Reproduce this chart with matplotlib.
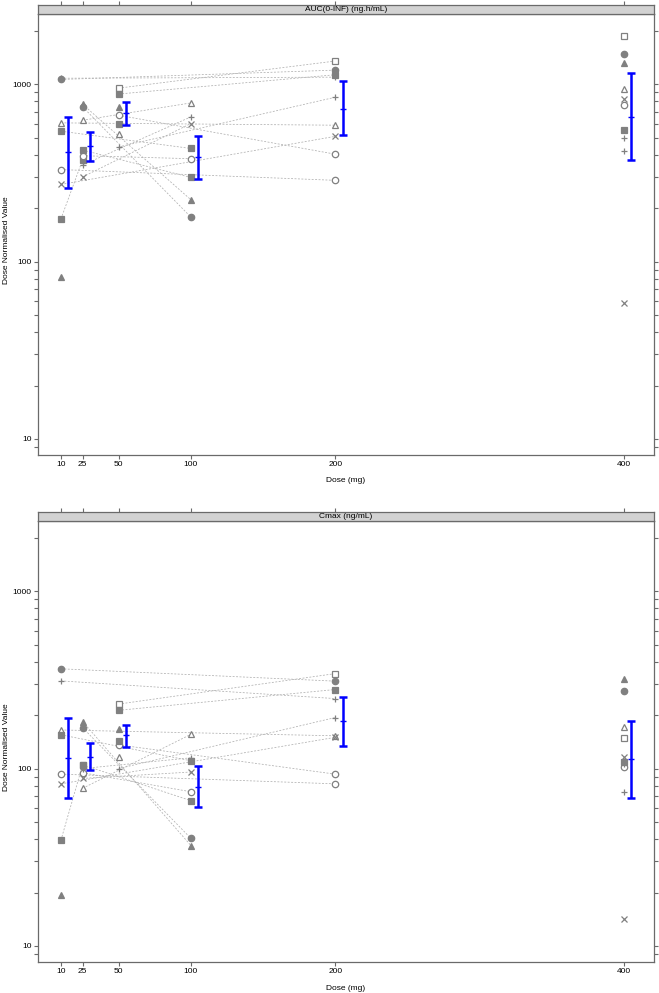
"""Dose normalised AUC and Cmax versus dose, two stacked lattice-style panels."""

import numpy as np
import matplotlib
matplotlib.use("Agg")
import matplotlib.pyplot as plt
from matplotlib.ticker import FixedLocator, FixedFormatter, NullFormatter

plt.rcParams['font.family'] = ['Liberation Sans', 'DejaVu Sans']

# Subjects: marker, first dose, second dose (nan = single dose)
subj_marker = ["circle", "plus", "tri_open", "cross", "circle_open", "square", "square", "tri",
               "tri", "circle", "tri_open", "circle_open", "cross", "plus", "square",
               "square_open", "square", "plus", "circle_open", "square", "tri", "tri_open",
               "square_open", "circle", "tri", "tri_open", "cross", "circle_open", "square",
               "plus", "plus", "cross"]
subj_dose_a = [10, 10, 10, 10, 10, 10, 10, 10,
               25, 25, 25, 25, 25, 25, 25,
               50, 50, 50, 50, 50, 50, 50,
               400, 400, 400, 400, 400, 400, 400, 400, 400, 400]
subj_dose_b = [200, 200, 200, 200, 200, 100, 25, np.nan,
               100, 100, 100, 100, 100, 100, 100,
               200, 200, 200, 200, np.nan, np.nan, np.nan,
               np.nan, np.nan, np.nan, np.nan, np.nan, np.nan, np.nan, np.nan, np.nan, np.nan]

# AUC(0-INF) dose normalised values at first / second dose
auc_a = [1063, 1080, 605, 272, 330, 543, 174, 82,
         770, 745, 626, 395, 300, 350, 425,
         950, 880, 443, 668, 600, 740, 522,
         1868, 1478, 1309, 945, 830, 761, 555, 500, 419, 58.5]
auc_b = [1200, 1095, 587, 508, 287, 434, 375, np.nan,
         223, 178, 784, 380, 600, 654, 298,
         1350, 1130, 844, 403, np.nan, np.nan, np.nan,
         np.nan, np.nan, np.nan, np.nan, np.nan, np.nan, np.nan, np.nan, np.nan, np.nan]

# Cmax dose normalised values at first / second dose
cmax_a = [365, 312, 165, 82, 93, 155, 39.5, 19.4,
          184, 170, 77.4, 94.7, 88, 100, 105,
          231, 213, 100, 136, 143, 168, 116.6,
          148, 273, 318, 172, 116.6, 102, 109, 74, 106, 14.2]
cmax_b = [311, 248, 153, 150, 82, 110.6, 105, np.nan,
          36.8, 40.4, 156, 74, 95.6, 115, 65.9,
          343, 279, 194, 93, np.nan, np.nan, np.nan,
          np.nan, np.nan, np.nan, np.nan, np.nan, np.nan, np.nan, np.nan, np.nan, np.nan]

# Blue summary bars (lower, centre, upper)
bar_doses = [10, 25, 50, 100, 200, 400]
auc_bar_lo = [261, 367, 592, 293, 520, 372]
auc_bar_mid = [413, 448, 689, 388, 729, 649]
auc_bar_hi = [649, 538, 795, 508, 1040, 1159]
cmax_bar_lo = [68.2, 98, 132.7, 60.9, 133.8, 68]
cmax_bar_mid = [115, 116.6, 154, 79, 185, 112.7]
cmax_bar_hi = [192, 138.7, 177, 103.7, 254, 185]

x_ticks = [10, 25, 50, 100, 200, 400]
panel_titles = ["AUC(0-INF) (ng.h/mL)", "Cmax (ng/mL)"]

W, H = 659, 993
GREY = "#808080"
BOX = "#6a6a6a"
BAR_OFFSET = 5

MARKERS = {
    "circle": dict(marker="o", mfc=GREY),
    "circle_open": dict(marker="o", mfc="white"),
    "tri": dict(marker="^", mfc=GREY),
    "tri_open": dict(marker="^", mfc="white"),
    "square": dict(marker="s", mfc=GREY),
    "square_open": dict(marker="s", mfc="white"),
    "plus": dict(marker="+", mfc=GREY),
    "cross": dict(marker="x", mfc=GREY),
}


def px_box(left, top, right, bottom):
    return [left / W, 1 - bottom / H, (right - left) / W, (bottom - top) / H]


def draw_panel(fig, top, vals_a, vals_b, lo, mid, hi, title):
    ax = fig.add_axes(px_box(38, top + 9, 654, top + 450))
    strip = fig.add_axes(px_box(38, top, 654, top + 9))

    # subject lines
    for da, db, va, vb in zip(subj_dose_a, subj_dose_b, vals_a, vals_b):
        if not np.isnan(db):
            ax.plot([da, db], [va, vb], color="#b0b0b0", lw=0.55,
                    dashes=(2.5, 2), zorder=1)
    # subject points
    for m, da, db, va, vb in zip(subj_marker, subj_dose_a, subj_dose_b, vals_a, vals_b):
        style = MARKERS[m]
        for d, v in ((da, va), (db, vb)):
            if np.isnan(d):
                continue
            ax.plot(d, v, ls="none", marker=style["marker"], mfc=style["mfc"],
                    mec=GREY, mew=0.9, ms=4.6, zorder=2)

    # summary bars
    xb = np.array(bar_doses) + BAR_OFFSET
    ax.vlines(xb, lo, hi, color="#0000ff", lw=1.8, zorder=3)
    ax.plot(xb, lo, ls="none", marker="_", ms=6, mew=1.8, color="#0000ff", zorder=3)
    ax.plot(xb, hi, ls="none", marker="_", ms=6, mew=1.8, color="#0000ff", zorder=3)
    ax.plot(xb, mid, ls="none", marker="_", ms=5, mew=1.0, color="#0000ff", zorder=3)

    ax.set_yscale("log")
    ax.set_ylim(8.12, 2486)
    ax.set_xlim(-5.9, 420.7)
    ax.yaxis.set_major_locator(FixedLocator([10, 100, 1000]))
    ax.yaxis.set_major_formatter(FixedFormatter(["10", "100", "1000"]))
    minors = [k * 10 ** e for e in range(0, 4) for k in range(2, 10)]
    ax.yaxis.set_minor_locator(FixedLocator(minors))
    ax.yaxis.set_minor_formatter(NullFormatter())
    ax.set_xticks(x_ticks)
    ax.set_xticklabels([str(t) for t in x_ticks])
    ax.tick_params(which="both", direction="out", length=3, width=0.8, color=BOX,
                   labelsize=6, pad=1.5, right=True, labelright=False)
    for s in ax.spines.values():
        s.set_color(BOX)
        s.set_linewidth(0.9)

    strip.set_facecolor("#d2d2d2")
    strip.set_xlim(ax.get_xlim())
    strip.set_yticks([])
    strip.set_xticks(x_ticks)
    strip.tick_params(axis="x", direction="out", length=3, width=0.8, color=BOX,
                      top=True, bottom=False, labeltop=False, labelbottom=False)
    for s in strip.spines.values():
        s.set_color(BOX)
        s.set_linewidth(0.9)
    strip.text(0.5, 0.45, title, transform=strip.transAxes, ha="center",
               va="center", fontsize=6)

    fig.text((38 + 654) / 2 / W, 1 - (top + 476) / H, "Dose (mg)",
             ha="center", va="center", fontsize=6)
    fig.text(7 / W, 1 - (top + 235) / H, "Dose Normalised Value",
             ha="center", va="center", rotation=90, fontsize=6)
    return ax


def main():
    fig = plt.figure(figsize=(W / 100, H / 100), dpi=100)
    draw_panel(fig, 5, auc_a, auc_b, auc_bar_lo, auc_bar_mid, auc_bar_hi, panel_titles[0])
    draw_panel(fig, 512, cmax_a, cmax_b, cmax_bar_lo, cmax_bar_mid, cmax_bar_hi, panel_titles[1])
    fig.savefig("out.png", dpi=100)


if __name__ == "__main__":
    main()
